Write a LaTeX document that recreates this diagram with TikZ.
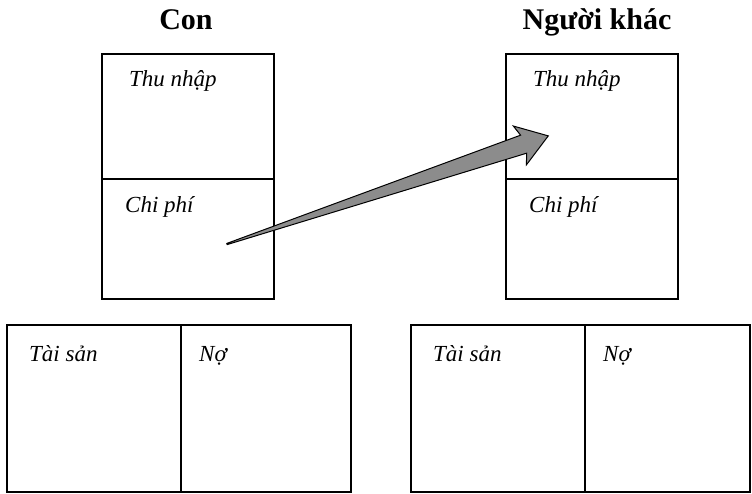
\documentclass[tikz,border=0pt]{standalone}
\usepackage{fontspec}
\setmainfont{Liberation Serif}
\begin{document}
\begin{tikzpicture}[x=1pt,y=-1pt,
  box/.style={draw=black,line width=2pt,anchor=north west,inner sep=0pt,outer sep=0pt},
  lbl/.style={anchor=base west,inner sep=0pt,font=\fontsize{23}{27}\selectfont\itshape},
  ttl/.style={anchor=base,inner sep=0pt,font=\fontsize{30}{34}\selectfont\bfseries},
  bigarrow/.style={draw=black,line width=1pt,fill=black!45,line join=miter}]
\useasboundingbox (0,0) rectangle (752,493);
% titles
\node[ttl] (tCon) at (186,29) {Con};
\node[ttl] (tKhac) at (597,29) {Người khác};
% top left boxes
\node[box,minimum width=172pt,minimum height=125pt] (cInc) at (102,54) {};
\node[box,minimum width=172pt,minimum height=120pt] (cExp) at (102,179) {};
% top right boxes
\node[box,minimum width=172pt,minimum height=125pt] (kInc) at (506,54) {};
\node[box,minimum width=172pt,minimum height=120pt] (kExp) at (506,179) {};
% bottom left
\node[box,minimum width=174pt,minimum height=167pt] (cAss) at (7,325) {};
\node[box,minimum width=170pt,minimum height=167pt] (cLia) at (181,325) {};
% bottom right
\node[box,minimum width=174pt,minimum height=167pt] (kAss) at (411,325) {};
\node[box,minimum width=165pt,minimum height=167pt] (kLia) at (585,325) {};
% labels
\node[lbl] (lcInc) at (129,86) {Thu nhập};
\node[lbl] (lcExp) at (125,212) {Chi phí};
\node[lbl] (lkInc) at (533,86) {Thu nhập};
\node[lbl] (lkExp) at (529,212) {Chi phí};
\node[lbl] (lcAss) at (29,361) {Tài sản};
\node[lbl] (lcLia) at (199,361) {Nợ};
\node[lbl] (lkAss) at (433,361) {Tài sản};
\node[lbl] (lkLia) at (603,361) {Nợ};
% big arrow
\coordinate (aTail) at (227,244);
\begin{scope}[shift={(aTail)},rotate=18.6]
\draw[bigarrow] (0,-0.6) -- (313,-9.5) -- (309,-20.5) -- (339,0) -- (309,20.5) -- (313,9.5) -- (0,0.6) -- cycle;
\end{scope}
\end{tikzpicture}
\end{document}
